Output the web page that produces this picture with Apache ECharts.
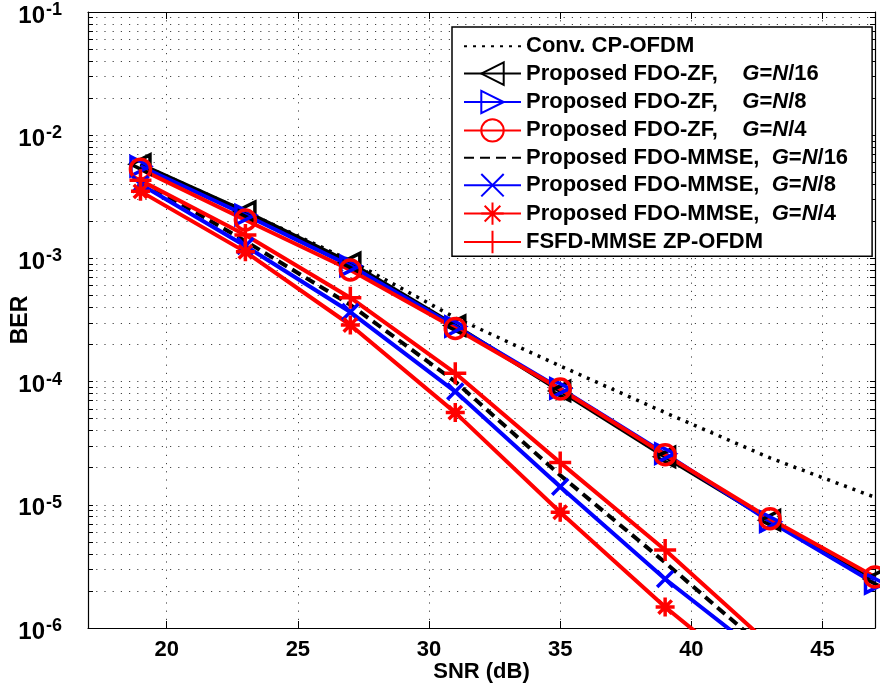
<!DOCTYPE html>
<html>
<head>
<meta charset="utf-8">
<title>BER vs SNR</title>
<script src="https://cdn.jsdelivr.net/npm/echarts@6/dist/echarts.min.js"></script>
<style>
  html, body { margin: 0; padding: 0; background: #fff; }
  #chart { width: 880px; height: 691px; }
</style>
</head>
<body>
<div id="chart"></div>
<script>
// SNR points (dB) shared by every curve
const snr = [19, 23, 27, 31, 35, 39, 43, 47];

// Bit error rates
const berConvCP      = [5.8e-3, 2.4e-3, 9.6e-4, 3.3e-4, 1.34e-4, 5.6e-5, 2.4e-5, 1.15e-5];
const berZF16        = [5.8e-3, 2.4e-3, 9.2e-4, 2.85e-4, 8.4e-5, 2.45e-5, 7.5e-6, 2.5e-6];
const berZF8         = [5.6e-3, 2.25e-3, 8.7e-4, 2.8e-4, 8.8e-5, 2.6e-5, 7.3e-6, 2.3e-6];
const berZF4         = [5.3e-3, 2.05e-3, 8.05e-4, 2.7e-4, 8.7e-5, 2.55e-5, 7.7e-6, 2.6e-6];
const berMMSE16      = [4.3e-3, 1.38e-3, 4.2e-4, 1.0e-4, 1.74e-5, 3.4e-6, 6.3e-7];
const berMMSE8       = [4.0e-3, 1.26e-3, 3.67e-4, 8.3e-5, 1.4e-5, 2.5e-6, 5.4e-7];
const berMMSE4       = [3.5e-3, 1.13e-3, 2.88e-4, 5.6e-5, 8.7e-6, 1.48e-6, 3.0e-7];
const berFSFD        = [4.3e-3, 1.55e-3, 4.8e-4, 1.17e-4, 2.2e-5, 4.3e-6, 7.3e-7];

// Axis ticks
const xTicks = [20, 25, 30, 35, 40, 45];
const yDecades = [1e-6, 1e-5, 1e-4, 1e-3, 1e-2, 1e-1];

const seriesNames = [
  'Conv. CP-OFDM',
  'Proposed FDO-ZF,    G=N/16',
  'Proposed FDO-ZF,    G=N/8',
  'Proposed FDO-ZF,    G=N/4',
  'Proposed FDO-MMSE,  G=N/16',
  'Proposed FDO-MMSE,  G=N/8',
  'Proposed FDO-MMSE,  G=N/4',
  'FSFD-MMSE ZP-OFDM'
];

const FONT = '"Liberation Sans", Arial, Helvetica, sans-serif';

// Minor log ticks 2..9 in every decade plus the decades themselves
const yTicksAll = [];
for (let e = -6; e <= -2; e++) {
  for (let m = 1; m <= 9; m++) yTicksAll.push(+(m * Math.pow(10, e)).toPrecision(3));
}
yTicksAll.push(1e-1);

const pairs = ys => ys.map((v, i) => [snr[i], v]);

const hollow = c => ({ color: 'rgba(0,0,0,0)', borderColor: c, borderWidth: 3.5 });

const SYM_X = 'path://M0,0L20,20M20,0L0,20';
const SYM_PLUS = 'path://M10,0L10,20M0,10L20,10';
const SYM_STAR = 'path://M10,0L10,20M0,10L20,10M3,3L17,17M17,3L3,17';

function lineSeries(name, ys, color, opts) {
  return Object.assign({
    name: name,
    type: 'line',
    data: pairs(ys),
    lineStyle: { color: color, width: 4, type: 'solid' },
    itemStyle: hollow(color),
    symbol: 'circle',
    symbolSize: 18,
    showSymbol: true,
    emphasis: { disabled: true },
    clip: true,
    z: 2
  }, opts);
}

const gridDots = { show: true, lineStyle: { color: '#444', width: 1, type: [1.2, 7] } };

const option = {
  animation: false,
  backgroundColor: '#fff',
  grid: { left: 88, top: 12, right: 5, bottom: 63, containLabel: false, outerBoundsMode: 'none' },
  legend: {
    orient: 'vertical',
    left: 452,
    top: 27,
    itemWidth: 57,
    itemHeight: 28,
    itemGap: 4,
    padding: [8, 24, 2, 11],
    backgroundColor: '#fff',
    borderColor: '#000',
    borderWidth: 1.5,
    borderRadius: 0,
    selectedMode: false,
    data: seriesNames,
    formatter: name => name.replace('G=N', '{i|G}={i|N}'),
    textStyle: {
      fontFamily: FONT, fontWeight: 'bold', fontSize: 22, color: '#000',
      rich: { i: { fontFamily: FONT, fontWeight: 'bold', fontStyle: 'italic', fontSize: 22, color: '#000' } }
    }
  },
  xAxis: [{
    type: 'value',
    min: 17, max: 47,
    position: 'bottom',
    name: 'SNR (dB)',
    nameLocation: 'middle',
    nameGap: 33,
    nameMoveOverlap: false,
    nameTextStyle: { fontFamily: FONT, fontWeight: 'bold', fontSize: 22, color: '#000' },
    axisLine: { show: true, onZero: false, lineStyle: { color: '#000', width: 1.2 } },
    axisTick: { show: true, inside: true, length: 7, customValues: xTicks, lineStyle: { color: '#000' } },
    axisLabel: { show: true, customValues: xTicks, margin: 11, fontFamily: FONT, fontWeight: 'bold', fontSize: 22, color: '#000' },
    splitLine: gridDots
  }, {
    type: 'value',
    min: 17, max: 47,
    position: 'top',
    axisLine: { show: true, onZero: false, lineStyle: { color: '#000', width: 1.2 } },
    axisTick: { show: true, inside: true, length: 7, customValues: xTicks, lineStyle: { color: '#000' } },
    axisLabel: { show: false },
    splitLine: { show: false }
  }],
  yAxis: [{
    type: 'log',
    logBase: 10,
    min: 1e-6, max: 1e-1,
    position: 'left',
    name: 'BER',
    nameLocation: 'middle',
    nameGap: 56,
    nameRotate: 90,
    nameMoveOverlap: false,
    nameTextStyle: { fontFamily: FONT, fontWeight: 'bold', fontSize: 23, color: '#000' },
    axisLine: { show: true, onZero: false, lineStyle: { color: '#000', width: 1.2 } },
    axisTick: { show: true, inside: true, length: 5, customValues: yTicksAll, lineStyle: { color: '#000' } },
    axisLabel: {
      show: true, customValues: yDecades, margin: 26,
      formatter: v => '{b|10}{s|' + Math.round(Math.log10(v)) + '}',
      rich: {
        b: { fontFamily: FONT, fontWeight: 'bold', fontSize: 24, color: '#000', padding: [8, 1, 0, 0] },
        s: { fontFamily: FONT, fontWeight: 'bold', fontSize: 18, color: '#000', padding: [0, 0, 4, 0] }
      }
    },
    splitLine: gridDots
  }, {
    type: 'log',
    logBase: 10,
    min: 1e-6, max: 1e-1,
    position: 'right',
    axisLine: { show: true, onZero: false, lineStyle: { color: '#000', width: 1.2 } },
    axisTick: { show: true, inside: true, length: 5, customValues: yTicksAll, lineStyle: { color: '#000' } },
    axisLabel: { show: false },
    splitLine: { show: false }
  }],
  series: [
    lineSeries(seriesNames[0], berConvCP, '#000', {
      lineStyle: { color: '#000', width: 3.5, type: [3, 6] },
      showSymbol: false, symbolSize: 0,
      itemStyle: { color: 'rgba(0,0,0,0)', borderWidth: 0, borderColor: 'rgba(0,0,0,0)' }
    }),
    lineSeries(seriesNames[1], berZF16, '#000', { symbol: 'triangle', symbolRotate: 90, symbolSize: 19 }),
    lineSeries(seriesNames[2], berZF8, '#0000ff', { symbol: 'triangle', symbolRotate: -90, symbolSize: 19 }),
    lineSeries(seriesNames[3], berZF4, '#ff0000', { symbol: 'circle', symbolSize: 20 }),
    lineSeries(seriesNames[4], berMMSE16, '#000', {
      lineStyle: { color: '#000', width: 4, type: [10, 6] },
      showSymbol: false, symbolSize: 0,
      itemStyle: { color: 'rgba(0,0,0,0)', borderWidth: 0, borderColor: 'rgba(0,0,0,0)' }
    }),
    lineSeries(seriesNames[5], berMMSE8, '#0000ff', { symbol: SYM_X, symbolSize: 16 }),
    lineSeries(seriesNames[6], berMMSE4, '#ff0000', { symbol: SYM_STAR, symbolSize: 19 }),
    lineSeries(seriesNames[7], berFSFD, '#ff0000', { symbol: SYM_PLUS, symbolSize: 22 })
  ]
};

const chart = echarts.init(document.getElementById('chart'), null, { renderer: 'canvas' });
chart.setOption(option);
</script>
</body>
</html>
